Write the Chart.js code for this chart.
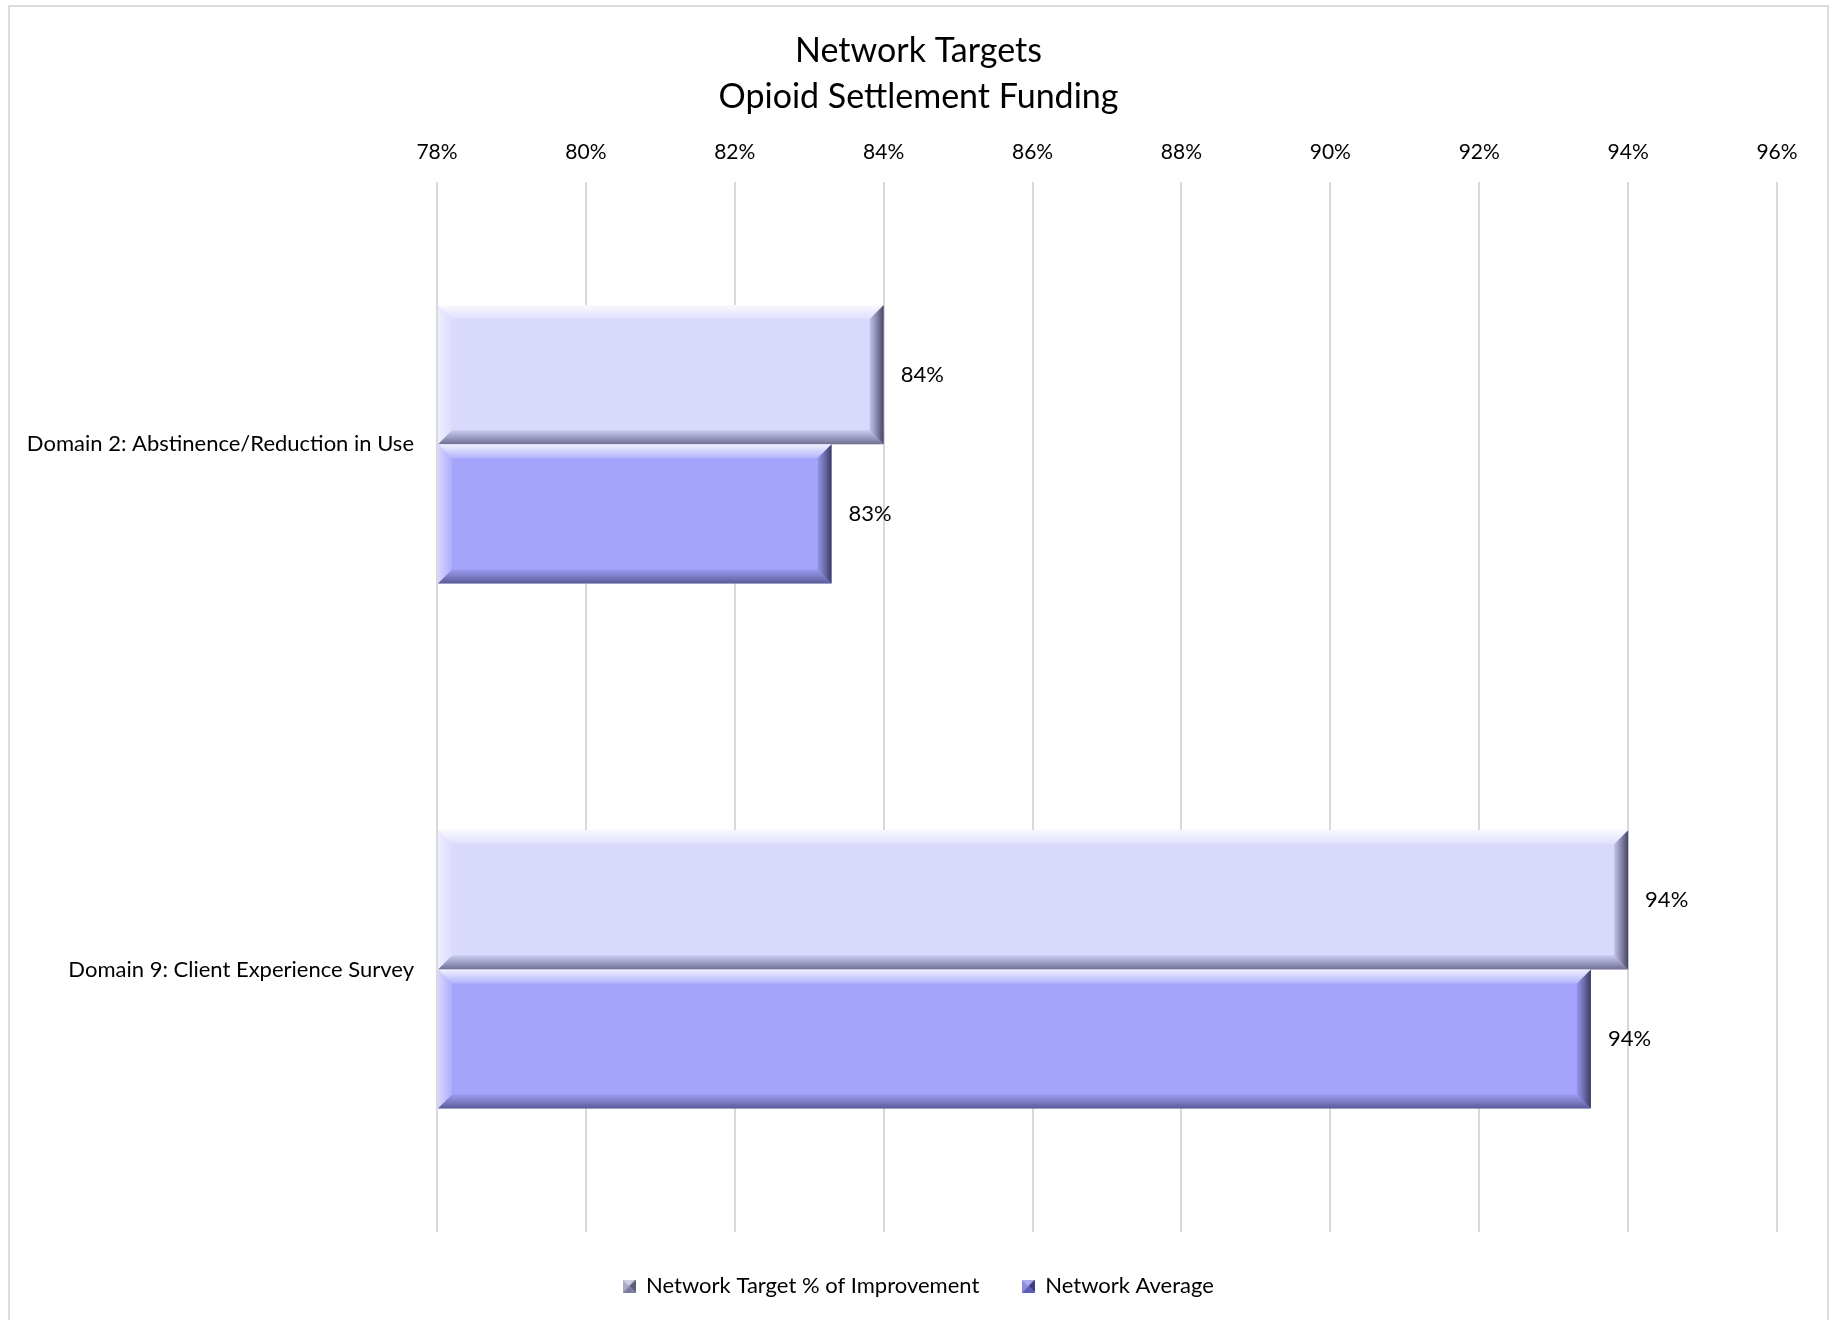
<!DOCTYPE html>
<html>
<head>
<meta charset="utf-8">
<script src="https://cdn.jsdelivr.net/npm/chart.js@4/dist/chart.umd.min.js"></script>
<style>
  body { margin: 0; background: #fff; }
  #frame {
    position: absolute; left: 8px; top: 5px;
    width: 1821px; height: 1320px;
    border: 2px solid #dcdcdc; border-bottom: none;
    box-sizing: border-box;
  }
  #wrap { position: absolute; left: 0; top: 0; width: 1817px; height: 1313px; }
</style>
</head>
<body>
<div id="frame"><div id="wrap"><canvas id="chart"></canvas></div></div>
<script>
const titleLines = ['Network Targets', 'Opioid Settlement Funding'];
const categories = ['Domain 2: Abstinence/Reduction in Use', 'Domain 9: Client Experience Survey'];
const seriesNames = ['Network Target % of Improvement', 'Network Average'];
const targetValues = [0.84, 0.94];
const averageValues = [0.833, 0.935];
const axisMin = 0.78;
const axisMax = 0.96;

const fontFamily = 'Lato, "Open Sans", sans-serif';

// little bevelled legend swatch like Excel's
function swatch(top, left, bottom, right) {
  const c = document.createElement('canvas');
  const s = 13;
  c.width = s; c.height = s;
  const x = c.getContext('2d');
  const tri = (col, pts) => {
    x.fillStyle = col;
    x.beginPath();
    x.moveTo(pts[0], pts[1]); x.lineTo(pts[2], pts[3]); x.lineTo(pts[4], pts[5]);
    x.closePath(); x.fill();
  };
  tri(top, [0, 0, s, 0, s / 2, s / 2]);
  tri(left, [0, 0, 0, s, s / 2, s / 2]);
  tri(bottom, [0, s, s, s, s / 2, s / 2]);
  tri(right, [s, 0, s, s, s / 2, s / 2]);
  return c;
}

// bevel look of the Excel bars, drawn over each bar the library placed
const bevelPlugin = {
  id: 'bevel',
  afterDatasetsDraw(chart) {
    const ctx = chart.ctx;
    const area = chart.chartArea;
    chart.data.datasets.forEach((ds, i) => {
      chart.getDatasetMeta(i).data.forEach(bar => {
        const left = Math.max(area.left, Math.min(bar.base, bar.x));
        const right = Math.max(bar.base, bar.x);
        const top = bar.y - bar.height / 2;
        const bottom = bar.y + bar.height / 2;
        const b = 14;
        ctx.save();
        let g = ctx.createLinearGradient(0, top, 0, top + b);
        g.addColorStop(0, 'rgba(255,255,255,0.85)');
        g.addColorStop(1, 'rgba(255,255,255,0.15)');
        ctx.fillStyle = g;
        ctx.beginPath();
        ctx.moveTo(left, top); ctx.lineTo(right, top);
        ctx.lineTo(right - b, top + b); ctx.lineTo(left + b, top + b);
        ctx.closePath(); ctx.fill();
        g = ctx.createLinearGradient(left, 0, left + b, 0);
        g.addColorStop(0, 'rgba(255,255,255,0.55)');
        g.addColorStop(1, 'rgba(255,255,255,0.1)');
        ctx.fillStyle = g;
        ctx.beginPath();
        ctx.moveTo(left, top); ctx.lineTo(left + b, top + b);
        ctx.lineTo(left + b, bottom - b); ctx.lineTo(left, bottom);
        ctx.closePath(); ctx.fill();
        g = ctx.createLinearGradient(0, bottom - b, 0, bottom);
        g.addColorStop(0, 'rgba(60,60,110,0.1)');
        g.addColorStop(1, 'rgba(40,40,80,0.6)');
        ctx.fillStyle = g;
        ctx.beginPath();
        ctx.moveTo(left, bottom); ctx.lineTo(left + b, bottom - b);
        ctx.lineTo(right - b, bottom - b); ctx.lineTo(right, bottom);
        ctx.closePath(); ctx.fill();
        g = ctx.createLinearGradient(right - b, 0, right, 0);
        g.addColorStop(0, 'rgba(60,60,110,0.15)');
        g.addColorStop(1, 'rgba(30,30,60,0.8)');
        ctx.fillStyle = g;
        ctx.beginPath();
        ctx.moveTo(right, top); ctx.lineTo(right, bottom);
        ctx.lineTo(right - b, bottom - b); ctx.lineTo(right - b, top + b);
        ctx.closePath(); ctx.fill();
        ctx.restore();
      });
    });
  }
};

const valueLabels = {
  id: 'valueLabels',
  afterDatasetsDraw(chart) {
    const ctx = chart.ctx;
    ctx.save();
    ctx.font = '22px ' + fontFamily;
    ctx.fillStyle = '#000';
    ctx.textAlign = 'left';
    ctx.textBaseline = 'middle';
    chart.data.datasets.forEach((ds, i) => {
      chart.getDatasetMeta(i).data.forEach((bar, j) => {
        ctx.fillText(Math.round(ds.data[j] * 100) + '%', bar.x + 17, bar.y);
      });
    });
    ctx.restore();
  }
};

const swatches = [
  swatch('#cfcfe6', '#a9a9c9', '#7c7c9e', '#5c5c7c'),
  swatch('#ababf2', '#8a8ae0', '#5c5cb8', '#3c3c84')
];

new Chart(document.getElementById('chart'), {
  type: 'bar',
  data: {
    labels: categories,
    datasets: [
      {
        label: seriesNames[0],
        data: targetValues,
        base: axisMin,
        backgroundColor: '#d9d9fc',
        categoryPercentage: 0.53,
        barPercentage: 1.0
      },
      {
        label: seriesNames[1],
        data: averageValues,
        base: axisMin,
        backgroundColor: '#a4a4fc',
        categoryPercentage: 0.53,
        barPercentage: 1.0
      }
    ]
  },
  options: {
    indexAxis: 'y',
    responsive: true,
    maintainAspectRatio: false,
    animation: false,
    layout: { padding: { left: 0, right: 0, top: 0, bottom: 13 } },
    scales: {
      x: {
        position: 'top',
        min: axisMin,
        max: axisMax,
        ticks: {
          stepSize: 0.02,
          padding: 17,
          color: '#000',
          font: { family: fontFamily, size: 21 },
          callback: v => Math.round(v * 100) + '%'
        },
        grid: { color: '#d9d9d9', lineWidth: 2, drawTicks: false },
        border: { display: false }
      },
      y: {
        afterFit: scale => { scale.width = 427; },
        ticks: {
          padding: 15,
          color: '#000',
          font: { family: fontFamily, size: 22 }
        },
        grid: { display: false },
        border: { display: false }
      },
      yRight: {
        type: 'category',
        position: 'right',
        afterFit: scale => { scale.width = 50; },
        ticks: { display: false },
        grid: { display: false },
        border: { display: false }
      }
    },
    plugins: {
      title: {
        display: true,
        text: titleLines,
        color: '#000',
        font: { family: fontFamily, size: 34, weight: 'normal', lineHeight: 1.36 },
        padding: { top: 21, bottom: 2 }
      },
      legend: {
        position: 'bottom',
        labels: {
          color: '#000',
          font: { family: fontFamily, size: 22 },
          usePointStyle: true,
          boxWidth: 12,
          boxHeight: 12,
          padding: 43,
          generateLabels: chart => chart.data.datasets.map((ds, i) => ({
            text: ds.label,
            pointStyle: swatches[i],
            fillStyle: ds.backgroundColor,
            lineWidth: 0,
            datasetIndex: i,
            fontColor: '#000'
          }))
        }
      },
      tooltip: { enabled: false }
    }
  },
  plugins: [bevelPlugin, valueLabels]
});
</script>
</body>
</html>
